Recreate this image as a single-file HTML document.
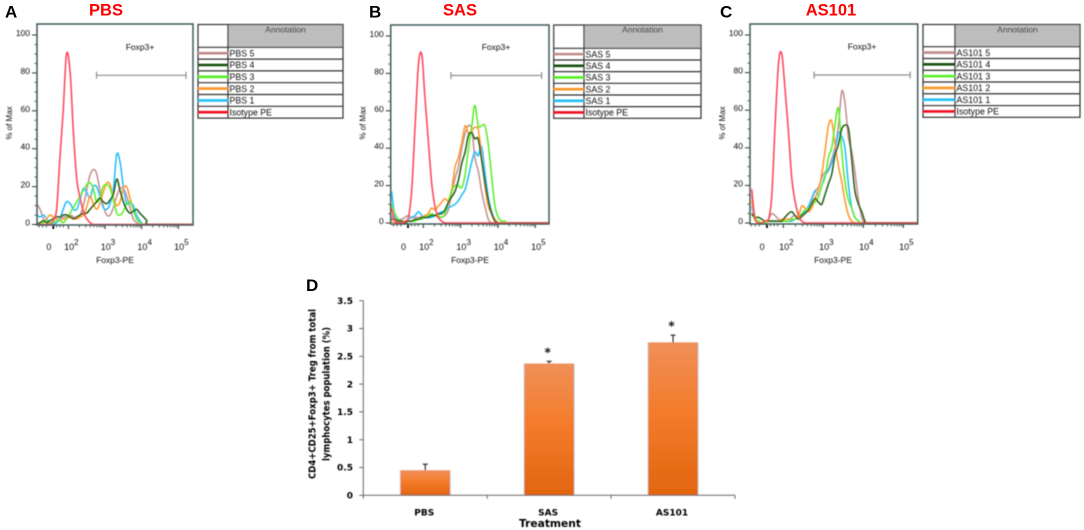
<!DOCTYPE html>
<html lang="en">
<head>
<meta charset="utf-8">
<title>Foxp3 Treg flow cytometry and bar chart</title>
<style>
html,body{margin:0;padding:0;background:#fff;width:1084px;height:530px;overflow:hidden}
svg{display:block}
text{font-family:"Liberation Sans",sans-serif}
</style>
</head>
<body>
<svg id="figure" xmlns="http://www.w3.org/2000/svg" width="1084" height="530" viewBox="0 0 1084 530"></svg>
<script>
// ---------- Histogram data: log10 fluorescence grids and % of max values ----------
const pbsGrid = [1.14,1.23,1.32,1.41,1.50,1.59,1.68,1.77,1.86,1.95,2.05,2.14,2.23,2.32,2.41,2.50,2.59,2.68,2.77,2.86,2.95,3.05,3.14,3.23,3.32,3.41,3.50,3.59,3.68,3.77,3.86,3.95,4.05,4.14,4.23];
const pbs5 = [11,8,3,1,0,1,2,3,4,4,5,4,3,5,10,18,26,29,27,18,10,5,5,9,15,19,19,15,9,3,1,0,0,0,0];
const pbs4 = [0,1,2,1,2,3,4,4,5,5,4,3,4,5,6,6,8,10,12,14,12,11,13,16,24,18,12,8,6,7,8,6,4,2,0];
const pbs3 = [0,0,1,2,1,1,2,2,1,3,6,9,12,15,18,21,22,19,12,14,20,21,19,13,6,5,7,11,12,8,3,1,0,0,0];
const pbs2 = [1,0,1,3,5,4,3,2,3,3,4,3,3,4,5,9,15,11,8,11,17,22,21,14,10,12,19,20,14,8,3,1,0,0,0];
const pbs1 = [5,4,5,3,1,0,1,3,8,12,11,8,8,13,19,17,14,20,20,15,9,8,11,19,37,33,20,11,12,10,5,2,0,0,0];
const pbsIso = [0,0,0,0,0,2,8,35,60,90,80,48,24,14,7,3,1,0,0,0,0,0,0,0,0,0,0,0,0,0,0,0,0,0,0];

const sasGrid = [1.15,1.24,1.33,1.42,1.51,1.60,1.69,1.78,1.87,1.96,2.04,2.13,2.22,2.31,2.40,2.49,2.58,2.67,2.76,2.85,2.94,3.03,3.12,3.21,3.30,3.38,3.47,3.56,3.65,3.74,3.83,3.92,4.01,4.10,4.19,4.28];
const sas5 = [4,2,2,2,3,4,3,3,3,3,3,4,4,4,3,3,4,7,16,24,30,40,48,52,50,35,28,17,9,2,0,0,0,0,0,0];
const sas4 = [2,2,1,1,0,1,1,2,2,3,3,3,4,4,5,5,7,11,14,17,23,32,38,47,48,45,45,34,22,12,5,1,0,0,0,0];
const sas3 = [10,5,2,1,1,1,1,1,2,2,3,4,5,4,4,3,5,11,17,20,20,19,26,40,52,63,52,52,52,42,25,9,3,1,1,0];
const sas2 = [1,0,0,0,1,1,1,2,2,3,4,5,8,7,9,11,13,12,18,30,35,43,52,48,50,51,50,36,20,9,5,2,0,0,0,0];
const sas1 = [17,3,1,1,1,2,3,4,6,4,3,3,3,4,5,6,6,8,9,10,12,15,18,25,33,38,36,41,27,14,6,2,0,0,0,0];
const sasIso = [8,1,0,0,1,3,18,52,85,90,68,45,22,9,3,1,0,0,0,0,0,0,0,0,0,0,0,0,0,0,0,0,0,0,0,0];

const as101Grid = [1.21,1.29,1.38,1.46,1.54,1.63,1.71,1.79,1.88,1.96,2.04,2.13,2.21,2.29,2.38,2.46,2.54,2.63,2.71,2.79,2.88,2.96,3.04,3.13,3.21,3.29,3.38,3.46,3.54,3.63,3.71,3.79,3.88,3.96,4.04,4.13];
const as1015 = [15,3,1,0,1,2,5,4,2,1,1,1,3,4,3,3,5,7,12,17,19,24,27,29,34,40,52,70,64,45,38,27,12,3,0,0];
const as1014 = [5,3,3,2,1,1,1,1,1,1,3,5,6,4,2,4,5,7,10,13,11,10,15,21,26,36,42,50,52,50,34,17,10,6,1,0];
const as1013 = [5,2,1,0,0,1,1,1,1,1,1,1,2,2,3,5,7,8,10,11,14,20,24,35,40,52,61,38,22,12,8,3,1,0,0,0];
const as1012 = [12,3,1,0,1,1,1,1,1,2,2,2,2,2,4,9,8,6,8,13,18,26,38,52,54,42,30,22,12,4,1,0,0,0,0,0];
const as1011 = [9,2,1,0,0,1,1,1,1,1,1,1,1,2,3,4,6,9,13,17,15,20,25,28,32,38,48,46,40,20,8,3,1,0,0,0];
const as101Iso = [18,2,0,0,1,2,14,50,85,90,72,48,24,12,4,1,0,0,0,0,0,0,0,0,0,0,0,0,0,0,0,0,0,0,0,0];

// ---------- Histogram tick labels ----------
const pctTicks = [0,20,40,60,80,100];
const decadeTicks = [2,3,4,5];
const minorMultipliers = [2,3,4,5,6,7,8,9];
const lowDecadeTicks = [1.2,1.3,1.4,1.59,1.68,1.77,1.86];

// ---------- Bar chart data ----------
const barCategories = ["PBS","SAS","AS101"];
const barValues = [0.45,2.37,2.75];
const barErrors = [0.11,0.04,0.13];
const barStars = ["","*","*"];
const barTicks = [0,0.5,1,1.5,2,2.5,3,3.5];

const svg = document.getElementById('figure');
const NS = 'http://www.w3.org/2000/svg';
function make(tag, attrs, parent, content){
  const node = document.createElementNS(NS, tag);
  for (const k in attrs) node.setAttribute(k, attrs[k]);
  if (content !== undefined) node.textContent = content;
  (parent || svg).appendChild(node);
  return node;
}

const defs = make('defs', {});
const grad = make('linearGradient', {id:'barFill', x1:0, y1:0, x2:0, y2:1}, defs);
make('stop', {offset:'0%','stop-color':'#f09058'}, grad);
make('stop', {offset:'45%','stop-color':'#f47c2c'}, grad);
make('stop', {offset:'100%','stop-color':'#e2650f'}, grad);
const soft = make('filter', {id:'soft', x:'-5%', y:'-5%', width:'110%', height:'110%'}, defs);
make('feGaussianBlur', {stdDeviation:'0.4'}, soft);

const seriesStyle = [
  {key:'s5', color:'#c08f8f', legend:'#c08a8a'},
  {key:'s1', color:'#1fbdf5', legend:'#22bff5'},
  {key:'s2', color:'#ff9526', legend:'#ff9526'},
  {key:'s3', color:'#55ee22', legend:'#55ee22'},
  {key:'s4', color:'#1c5a0c', legend:'#14500a'},
  {key:'iso', color:'#ff3f52', legend:'#ee1122'}
];
const legendOrder = ['s5','s4','s3','s2','s1','iso'];

const panels = [
  {id:'pbs', letter:'A', letterX:5, title:'PBS', titleX:106, fx:37, fx2:193, fy:24, fy2:225, d2:68.33, per:36.67, y0:224.5, y100:35,
   lx:198, ldiv:228, lx2:343, ly:24.5, lhead:47.3, lrow:11.8, gate:[2.77,5.21], gateY:75.3, foxX:140, foxY:50, axisX:115, xmax:5.41,
   grid:pbsGrid, s5:pbs5, s4:pbs4, s3:pbs3, s2:pbs2, s1:pbs1, iso:pbsIso,
   names:['PBS 5','PBS 4','PBS 3','PBS 2','PBS 1','Isotype PE']},
  {id:'sas', letter:'B', letterX:369, title:'SAS', titleX:460, fx:390.7, fx2:549, fy:25, fy2:224, d2:423.33, per:37.33, y0:223, y100:36,
   lx:553.7, ldiv:584, lx2:701, ly:25, lhead:48.3, lrow:11.67, gate:[2.74,5.17], gateY:75.5, foxX:496, foxY:50, axisX:470, xmax:5.37,
   grid:sasGrid, s5:sas5, s4:sas4, s3:sas3, s2:sas2, s1:sas1, iso:sasIso,
   names:['SAS 5','SAS 4','SAS 3','SAS 2','SAS 1','Isotype PE']},
  {id:'as101', letter:'C', letterX:720, title:'AS101', titleX:831, fx:750, fx2:917.7, fy:24, fy2:224, d2:783.33, per:40, y0:223, y100:35,
   lx:923, ldiv:955, lx2:1080, ly:24.5, lhead:46.7, lrow:11.77, gate:[2.77,5.17], gateY:75, foxX:862, foxY:49.5, axisX:833, xmax:5.36,
   grid:as101Grid, s5:as1015, s4:as1014, s3:as1013, s2:as1012, s1:as1011, iso:as101Iso,
   names:['AS101 5','AS101 4','AS101 3','AS101 2','AS101 1','Isotype PE']}
];

function smoothPath(pts, floorY){
  let d = 'M' + pts[0][0].toFixed(2) + ' ' + pts[0][1].toFixed(2);
  for (let i = 0; i < pts.length - 1; i++){
    const p0 = pts[Math.max(i-1,0)], p1 = pts[i], p2 = pts[i+1], p3 = pts[Math.min(i+2,pts.length-1)];
    const c1x = p1[0] + (p2[0]-p0[0])/6, c1y = Math.min(floorY, p1[1] + (p2[1]-p0[1])/6);
    const c2x = p2[0] - (p3[0]-p1[0])/6, c2y = Math.min(floorY, p2[1] - (p3[1]-p1[1])/6);
    d += 'C' + c1x.toFixed(2) + ' ' + c1y.toFixed(2) + ' ' + c2x.toFixed(2) + ' ' + c2y.toFixed(2) + ' ' + p2[0].toFixed(2) + ' ' + p2[1].toFixed(2);
  }
  return d;
}

panels.forEach(function(p){
  const xScale = function(d){ return p.d2 + (d-2)*p.per; };
  const yScale = function(v){ return p.y0 - v*(p.y0-p.y100)/100; };

  const letter = make('text', {x:p.letterX, y:17.5, 'font-size':17, 'font-weight':'bold', fill:'#000'}, svg, p.letter);
  
  

  const title = make('text', {x:p.titleX, y:15.5, 'font-size':16.5, 'font-weight':'bold', fill:'#ff0000', 'text-anchor':'middle'}, svg, p.title);
  
  

  const g = make('g', {filter:'url(#soft)'});
  
  

  // y ticks
  for (let v = 0; v <= 100; v += 5){
    const major = v % 20 === 0;
    const t = make('line', {x1:p.fx - (major?5:2.5), x2:p.fx, y1:yScale(v), y2:yScale(v), stroke:'#333', 'stroke-width':major?1:0.8}, g);
    
    
  }
  pctTicks.forEach(function(v){
    const t = make('text', {x:p.fx-7, y:yScale(v)+1, 'font-size':8.5, fill:'#111', 'text-anchor':'end'}, g, v);
    
    
  });
  const yTitle = make('text', {x:p.fx-25, y:123, 'font-size':8, fill:'#111', 'text-anchor':'middle', transform:'rotate(-90 ' + (p.fx-25) + ' 123)'}, g, '% of Max');
  
  

  // x ticks
  decadeTicks.forEach(function(k){
    const t = make('line', {x1:xScale(k), x2:xScale(k), y1:p.fy2, y2:p.fy2+4, stroke:'#222', 'stroke-width':1}, g);
    
    
    if (k < 5) minorMultipliers.forEach(function(m){
      const mt = make('line', {x1:xScale(k+Math.log10(m)), x2:xScale(k+Math.log10(m)), y1:p.fy2, y2:p.fy2+2.5, stroke:'#333', 'stroke-width':0.8}, g);
      
      
    });
    const base = make('text', {x:xScale(k)+3, y:250, 'font-size':9, fill:'#111', 'text-anchor':'middle'}, g);
    
    
    make('tspan', {}, base, '10');
    make('tspan', {dy:-5, 'font-size':8}, base, k);
  });
  lowDecadeTicks.forEach(function(d){
    const t = make('line', {x1:xScale(d), x2:xScale(d), y1:p.fy2, y2:p.fy2+(d===1.59?4:2.5), stroke:d===1.59?'#000':'#333', 'stroke-width':d===1.59?1.8:0.8}, g);
    
    
  });
  const zero = make('text', {x:xScale(1.47), y:250, 'font-size':9, fill:'#111', 'text-anchor':'middle'}, g, '0');
  
  
  const xTitle = make('text', {x:p.axisX, y:263, 'font-size':8.5, fill:'#111', 'text-anchor':'middle'}, g, 'Foxp3-PE');
  
  

  // series
  seriesStyle.forEach(function(s){
    const vals = p[s.key];
    const pts = p.grid.map(function(d,i){ return [xScale(d), yScale(vals[i])]; });
    pts.push([xScale(p.xmax), yScale(0)]);
    const line = make('path', {d:smoothPath(pts, p.y0), fill:'none', stroke:s.color, 'stroke-width':1.5, 'stroke-linejoin':'round'}, g);
    
    
  });

  const frame = make('rect', {x:p.fx, y:p.fy, width:p.fx2-p.fx, height:p.fy2-p.fy, fill:'none', stroke:'#3f5a5a', 'stroke-width':1.5}, g);
  
  

  // gate
  const gx1 = xScale(p.gate[0]), gx2 = xScale(p.gate[1]);
  const gate = make('path', {d:'M'+gx1+' '+p.gateY+'H'+gx2+'M'+gx1+' '+(p.gateY-3.5)+'v7M'+gx2+' '+(p.gateY-3.5)+'v7', fill:'none', stroke:'#8f8f8f', 'stroke-width':1.2}, g);
  
  
  const gateLabel = make('text', {x:p.foxX, y:p.foxY, 'font-size':8.5, fill:'#111', 'text-anchor':'middle'}, g, 'Foxp3+');
  
  

  // annotation legend
  const lg = make('g', {filter:'url(#soft)'});
  
  
  const bottom = p.lhead + p.lrow*6;
  const head = make('rect', {x:p.ldiv, y:p.ly, width:p.lx2-p.ldiv, height:p.lhead-p.ly, fill:'#bdbdbd'}, lg);
  
  
  const headText = make('text', {x:(p.ldiv+p.lx2)/2, y:32.5, 'font-size':8.5, fill:'#111', 'text-anchor':'middle'}, lg, 'Annotation');
  
  
  const box = make('rect', {x:p.lx, y:p.ly, width:p.lx2-p.lx, height:bottom-p.ly, fill:'none', stroke:'#333', 'stroke-width':1.2}, lg);
  
  
  const divider = make('line', {x1:p.ldiv, x2:p.ldiv, y1:p.ly, y2:bottom, stroke:'#333', 'stroke-width':1.2}, lg);
  
  
  legendOrder.forEach(function(key,i){
    const rowY = p.lhead + p.lrow*i;
    const sep = make('line', {x1:p.lx, x2:p.lx2, y1:rowY, y2:rowY, stroke:'#333', 'stroke-width':1.2}, lg);
    
    
    const col = seriesStyle.filter(function(s){ return s.key === key; })[0].legend;
    const swatch = make('line', {x1:p.lx, x2:p.ldiv, y1:rowY+p.lrow/2, y2:rowY+p.lrow/2, stroke:col, 'stroke-width':2.6}, lg);
    
    
    const label = make('text', {x:p.ldiv+1.5, y:rowY+p.lrow/2+3.2, 'font-size':8.8, fill:'#111'}, lg, p.names[i]);
    
    
  });
});

// ---------- Bar chart ----------
const barLeft = 363.3, barRight = 735, barTop = 300.7, barBase = 495.3;
const yBar = function(v){ return barBase - v*(barBase-barTop)/3.5; };
const band = (barRight-barLeft)/barCategories.length;
const xBar = function(i){ return barLeft + band*(i+0.5); };
const barWidth = 49.5;

const dLetter = make('text', {x:306, y:291, 'font-size':17, 'font-weight':'bold', fill:'#000'}, svg, 'D');



const bc = make('g', {filter:'url(#soft)'});



barCategories.forEach(function(cat,i){
  const cx = xBar(i);
  const shadow = make('rect', {x:cx-barWidth/2-0.8, y:yBar(barValues[i]), width:barWidth+1.6, height:barBase-yBar(barValues[i]), fill:'#bcd6ea'}, bc);
  
  
  const bar = make('rect', {x:cx-barWidth/2, y:yBar(barValues[i]), width:barWidth, height:barBase-yBar(barValues[i]), fill:'url(#barFill)'}, bc);
  
  
  const errTop = yBar(barValues[i]+barErrors[i]);
  const err = make('path', {d:'M'+cx+' '+yBar(barValues[i])+'V'+errTop+'M'+(cx-2.5)+' '+errTop+'H'+(cx+2.5), fill:'none', stroke:'#222', 'stroke-width':1.1}, bc);
  
  
  if (barStars[i]){
    const star = make('text', {x:cx-1.5, y:errTop-5, 'font-size':12, 'font-weight':'bold', fill:'#111', 'text-anchor':'middle', style:'font-family:"DejaVu Sans",sans-serif'}, bc, barStars[i]);
    
    
  }
  const lab = make('text', {x:cx-1, y:515.5, 'font-size':9, 'font-weight':'bold', fill:'#000', 'text-anchor':'middle', style:'font-family:"DejaVu Sans",sans-serif'}, bc, cat);
  
  
  const tick = make('line', {x1:barLeft+band*(i+1), x2:barLeft+band*(i+1), y1:barBase, y2:barBase+3.5, stroke:'#666', 'stroke-width':1}, bc);
  
  
});
const xAxis = make('line', {x1:barLeft, x2:barRight, y1:barBase, y2:barBase, stroke:'#666', 'stroke-width':1}, bc);


const yAxis = make('line', {x1:barLeft, x2:barLeft, y1:barTop, y2:barBase+3.5, stroke:'#666', 'stroke-width':1}, bc);


barTicks.forEach(function(v){
  const t = make('line', {x1:barLeft-4, x2:barLeft, y1:yBar(v), y2:yBar(v), stroke:'#666', 'stroke-width':1}, bc);
  
  
  const l = make('text', {x:353, y:yBar(v)+3.2, 'font-size':9, 'font-weight':'bold', fill:'#000', 'text-anchor':'end', style:'font-family:"DejaVu Sans",sans-serif'}, bc, v);
  
  
});
const tTitle = make('text', {x:550, y:527, 'font-size':11, 'font-weight':'bold', fill:'#000', 'text-anchor':'middle', textLength:62, lengthAdjust:'spacingAndGlyphs', style:'font-family:"DejaVu Sans",sans-serif'}, bc, 'Treatment');


const yt1 = make('text', {x:0, y:0, 'font-size':9.5, 'font-weight':'bold', fill:'#000', 'text-anchor':'middle', textLength:170, lengthAdjust:'spacingAndGlyphs', transform:'translate(315.5 394) rotate(-90)', style:'font-family:"DejaVu Sans",sans-serif'}, bc, 'CD4+CD25+Foxp3+ Treg from total');


const yt2 = make('text', {x:0, y:0, 'font-size':9.5, 'font-weight':'bold', fill:'#000', 'text-anchor':'middle', textLength:134, lengthAdjust:'spacingAndGlyphs', transform:'translate(329.5 394) rotate(-90)', style:'font-family:"DejaVu Sans",sans-serif'}, bc, 'lymphocytes population  (%)');


</script>
</body>
</html>
